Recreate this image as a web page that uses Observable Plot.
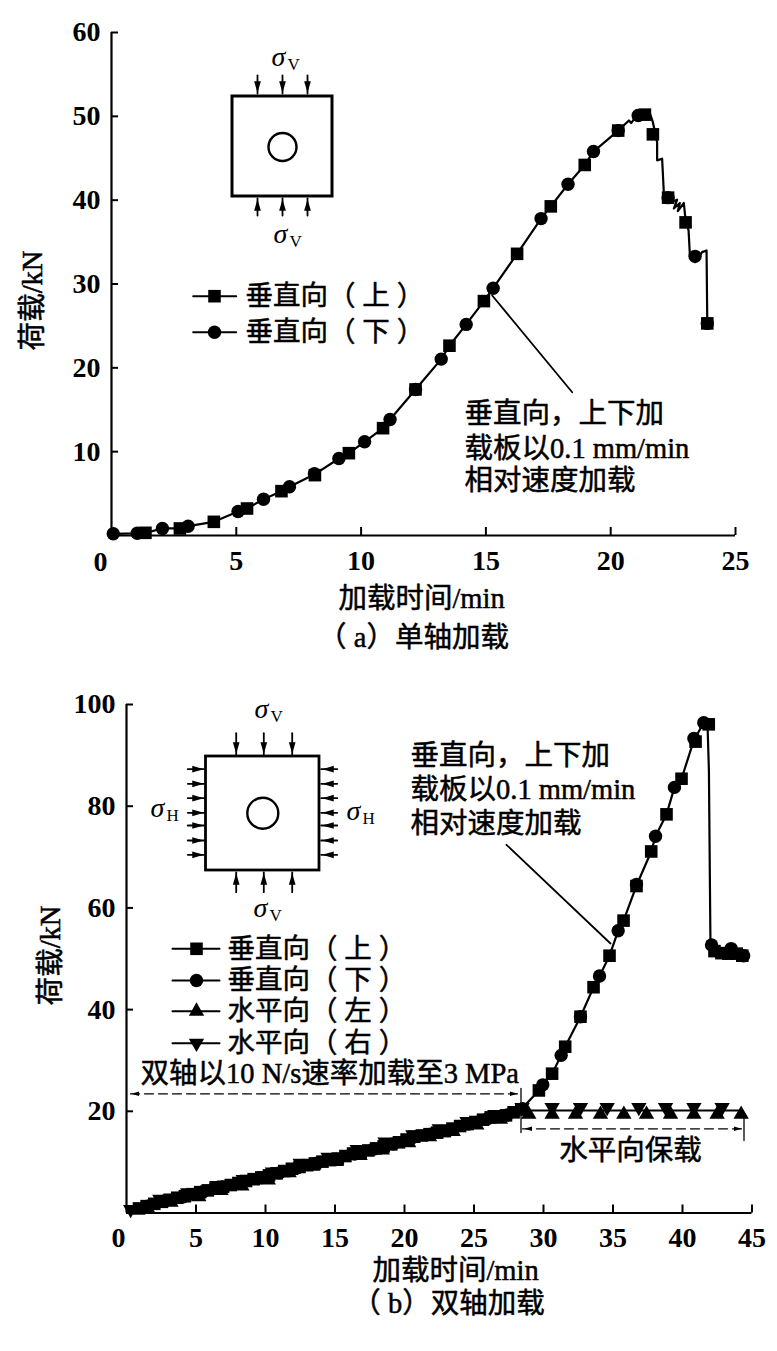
<!DOCTYPE html>
<html><head><meta charset="utf-8">
<script src="https://cdn.jsdelivr.net/npm/d3@7"></script>
<script src="https://cdn.jsdelivr.net/npm/@observablehq/plot@0.6"></script>
<style>html,body{margin:0;padding:0;background:#fff;overflow:hidden}svg{display:block}svg text{text-spacing-trim:space-all}</style>
</head><body><div id="chart"></div>
<script>
// ---------- Panel (a) data ----------
const aXTicks = [5,10,15,20,25];
const aYTicks = [10,20,30,40,50,60];
const aLineT = [0.07,1.03,1.36,2.04,2.74,3.07,4.1,5.07,5.43,6.09,6.81,7.13,8.14,9.11,9.51,10.14,10.88,11.16,12.18,13.21,13.54,14.21,14.92,15.29,16.25,17.21,17.6,18.29,18.96,19.31,20.3,20.73,20.82,20.99,21.2,21.53,21.69,21.86,21.86,22.06,22.13,22.3,22.46,22.66,22.53,22.77,22.69,22.93,23.01,23.12,23.17,23.38,23.66,23.84,23.87];
const aLineV = [0.2,0.27,0.32,0.84,0.84,1.11,1.63,2.86,3.22,4.33,5.29,5.81,7.3,9.19,9.82,11.18,12.8,13.84,17.42,21.04,22.64,25.18,27.96,29.5,33.6,37.8,39.26,41.9,44.2,45.8,48.3,49.5,49.2,49.9,50.7,50.7,49.3,46.9,44.75,44.95,40.8,40.3,39.8,40.05,39.0,39.66,38.7,39.66,37.35,36.4,33.6,32.6,33.8,34.0,25.3];
const aSquareT = [1.36,2.74,4.1,5.43,6.81,8.15,9.51,10.88,12.18,13.54,14.92,16.25,17.6,18.96,20.3,21.37,21.69,22.3,23.0,23.87];
const aSquareV = [0.32,0.84,1.63,3.22,5.29,7.2,9.82,12.8,17.42,22.64,27.96,33.6,39.26,44.2,48.3,50.2,47.85,40.3,37.35,25.3];
const aCircleT = [0.07,1.03,2.04,3.07,5.07,6.09,7.13,8.13,9.11,10.14,11.16,12.18,13.21,14.21,15.29,17.21,18.29,19.31,20.3,21.1,22.3,23.38,23.87];
const aCircleV = [0.2,0.27,0.84,1.11,2.86,4.33,5.81,7.36,9.19,11.18,13.84,17.42,21.04,25.18,29.5,37.8,41.9,45.8,48.3,50.1,40.3,33.3,25.3];
// ---------- Panel (b) data ----------
const bXTicks = [5,10,15,20,25,30,35,40,45];
const bYTicks = [20,40,60,80,100];
const bLineT = [0.3,1,2,3,4,5,6,7,8,9,10,11,12,13,14,15,16,17,18,19,20,21,22,23,24,25,26,27,28.4,29.67,29.95,30.62,31.27,31.56,32.66,33.6,34.03,34.75,35.37,35.76,36.69,37.75,38.06,38.85,39.42,39.93,40.82,41.53,41.8,41.9,42.01,42.09,42.37,42.85,43.33,43.57,43.93,44.3];
const bLineV = [0.3,1,1.9,2.5,3.2,3.8,4.6,5.1,5.8,6.6,7.1,7.9,8.7,9.5,10,10.5,11.5,12,12.8,13.4,14.2,15,15.6,16.2,17,17.8,18.7,19,20.4,24.1,25.2,27.4,31,32.7,38.6,44.4,46.6,50.6,55.5,57.5,64.4,71.1,74.1,78.4,83.7,85.4,93,96.4,96.1,87,53.6,52.7,51,51.9,51.3,52.6,51.3,50.6];
const bSquareT = [0.9,1.45,2,2.55,3.1,3.65,4.2,4.75,5.3,5.85,6.4,6.95,7.5,8.05,8.6,9.15,9.7,10.25,10.8,11.35,11.9,12.45,13,13.55,14.1,14.65,15.2,15.75,16.3,16.85,17.4,17.95,18.5,19.05,19.6,20.15,20.7,21.25,21.8,22.35,22.9,23.45,24,24.55,25.1,25.65,26.2,26.75,27.3,27.85,28.4,29.67,30.62,31.56,32.66,33.6,34.75,35.76,36.69,37.75,38.85,39.93,40.94,41.89,42.3,42.8,43.3,43.9,44.3];
const bSquareV = [0.9,1.35,1.8,2.2,2.6,3,3.3,3.7,4.1,4.45,4.8,5.15,5.5,5.9,6.3,6.65,7,7.4,7.8,8.25,8.7,9.05,9.4,9.75,10.1,10.4,10.7,11.2,11.7,12,12.3,12.7,13.1,13.5,13.9,14.45,15,15.25,15.5,15.8,16.1,16.6,17.1,17.5,17.9,18.35,18.8,19,19.2,19.8,20.4,24.1,27.4,32.7,38.6,44.4,50.6,57.5,64.3,71.1,78.4,85.4,92.7,96.1,51.5,51.1,51,51,50.6];
const bCircleT = [1.4,2.8,4.1,5.5,6.9,8.2,9.6,11,12.3,13.7,15.1,16.4,17.8,19.2,20.5,21.9,23.3,24.6,26,27.4,28.5,29.95,31.27,32.66,34.03,35.37,36.69,38.06,39.42,40.82,41.53,42.09,43.5,44.4];
const bCircleV = [1.3,2.4,3.2,4.2,5.1,5.9,6.9,7.9,8.9,9.8,10.6,11.6,12.6,13.6,14.7,15.5,16.4,17.5,18.6,19.3,20.5,25.2,31,38.6,46.6,55.5,64.6,74.1,83.7,93.3,96.4,52.7,52,50.6];
const bUpT = [1.5,3.2,5.2,6.8,8.3,10.2,11.7,13.4,15.1,16.8,18.4,20.3,21.8,23.5,25.2,26.9,28.94,30.62,32.3,34.1,35.78,37.41,39.14,40.82,42.49,44.22];
const bUpV = [1.0,2.1,3.2,4.4,5.3,6.5,7.9,9.2,10.1,11.3,12.4,13.8,15,16,17.3,18.4,19.4,19.4,19.4,19.4,19.4,19.4,19.4,19.4,19.4,19.4];
const bDownT = [0.3,2.4,4.4,6.5,8.4,10.5,12.5,14.5,16.6,18.6,20.6,22.5,24.5,26.5,28.46,30.62,32.66,34.58,36.86,38.78,40.82,42.85];
const bDownV = [0.7,2.7,4.0,5.4,6.6,8.1,9.8,11,12.5,14,15.4,16.6,18,19.4,20.75,20.75,20.75,20.75,20.75,20.75,20.75,20.75];
const bHoldT = [28.4,44.22];
const bHoldV = [20.16,20.16];
const legendA = ["垂直向（ 上 ）","垂直向（ 下 ）"];
const legendB = ["垂直向（ 上 ）","垂直向（ 下 ）","水平向（ 左 ）","水平向（ 右 ）"];
const note = ["垂直向，上下加","载板以0.1 mm/min","相对速度加载"];

const FONT = '"Liberation Serif","Noto Sans CJK SC",serif';
const rows = (t,v) => t.map((d,i)=>({t:d,v:v[i]}));
const head = {draw(c,s){const r=Math.sqrt(s/Math.PI);c.moveTo(0,r*1.3);c.lineTo(-r*.7,-r*1.1);c.lineTo(r*.7,-r*1.1);c.closePath();}};

function panel(o){
  const kx=(o.right-o.left)/o.xMax, ky=(o.bottom-o.top)/o.yMax;
  const X=p=>(p-o.left)/kx;
  const Y=p=>(o.bottom-(p-o.off))/ky;
  const txt=(s,px,py,opt={})=>Plot.text([s],{x:X(px),y:Y(py),text:d=>d,fontSize:28.5,textAnchor:"start",fill:"#000",stroke:"#000",strokeWidth:0.5,...opt});
  const seg=(x1,y1,x2,y2,opt={})=>Plot.line([[X(x1),Y(y1)],[X(x2),Y(y2)]],{stroke:"#000",strokeWidth:1.8,...opt});
  const arrowHead=(px,py,rot,r=4.8)=>Plot.dot([0],{x:X(px),y:Y(py),symbol:head,r,fill:"#000",stroke:"none",rotate:rot});
  const sigma=(px,py,sub)=>[
    txt("σ",px,py,{fontStyle:"italic",fontSize:28,fontFamily:'"Liberation Serif",serif',strokeWidth:0}),
    txt(sub,px+16,py+7,{fontSize:17,fontFamily:'"Liberation Serif",serif',strokeWidth:0})];
  return {X,Y,txt,seg,arrowHead,sigma,kx,ky};
}
function base(o,h,marks){
  return Plot.plot({
    width:777,height:o.height,marginLeft:o.left,marginRight:777-o.right,marginTop:o.top,marginBottom:o.height-o.bottom,
    x:{domain:[0,o.xMax],label:null},y:{domain:[0,o.yMax],label:null},clip:false,
    style:{fontFamily:FONT,background:"#fff",color:"#000",overflow:"visible"},
    marks:[
      Plot.axisX({ticks:o.xTicks,tickSize:0,tickPadding:o.xPad,fontSize:o.font,fontWeight:700,label:null,fill:"#000"}),
      Plot.axisY({ticks:o.yTicks,tickSize:0,tickPadding:o.yPad,fontSize:o.font,fontWeight:700,label:null,fill:"#000"}),
      h.txt("0",o.zeroX,o.zeroY,{textAnchor:"middle",fontSize:o.font,fontWeight:700,strokeWidth:0}),
      Plot.ruleX(o.xTicks,{y1:0,y2:8/h.ky,stroke:"#000",strokeWidth:2}),
      Plot.ruleY(o.yTicks,{x1:0,x2:7/h.kx,stroke:"#000",strokeWidth:2}),
      Plot.ruleX([0],{stroke:"#000",strokeWidth:2.2}),
      Plot.ruleY([0],{stroke:"#000",strokeWidth:2.2}),
      ...marks
    ]
  });
}
const sq = (d)=>Plot.dot(d,{x:"t",y:"v",symbol:"square",r:7.1,fill:"#000",stroke:"none"});
const ci = (d)=>Plot.dot(d,{x:"t",y:"v",symbol:"circle",r:6.7,fill:"#000",stroke:"none"});
const up = (d)=>Plot.dot(d,{x:"t",y:"v",symbol:"triangle",r:5.7,fill:"#000",stroke:"none"});
const dn = (d)=>Plot.dot(d,{x:"t",y:"v",symbol:"triangle",rotate:180,r:5.7,fill:"#000",stroke:"none"});

// ---------- Panel (a) ----------
const oa={left:111,right:735,top:32,bottom:535,off:0,height:660,xMax:25,yMax:60,xTicks:aXTicks,yTicks:aYTicks,xPad:15,yPad:11,font:28,zeroX:100,zeroY:562};
const ha=panel(oa);
const aMarks=[
  Plot.line(rows(aLineT,aLineV),{x:"t",y:"v",stroke:"#000",strokeWidth:2.2}),
  sq(rows(aSquareT,aSquareV)),ci(rows(aCircleT,aCircleV)),
  Plot.rect([0],{x1:ha.X(232),x2:ha.X(332),y1:ha.Y(196),y2:ha.Y(96),fill:"none",stroke:"#000",strokeWidth:3}),
  Plot.dot([0],{x:ha.X(282),y:ha.Y(146.5),r:14,fill:"none",stroke:"#000",strokeWidth:2.4}),
  ...[257,282,307].flatMap(x=>[ha.seg(x,75,x,93),ha.arrowHead(x,86,0),ha.seg(x,198,x,215),ha.arrowHead(x,205,180)]),
  ...ha.sigma(271,57,"V"),...ha.sigma(273,234,"V"),
  ha.seg(192.7,295.7,235.7,295.7,{strokeWidth:2}),ha.seg(192.7,331.7,235.7,331.7,{strokeWidth:2}),
  sq([{t:ha.X(214),v:ha.Y(295.7)}]),ci([{t:ha.X(214),v:ha.Y(331.7)}]),
  ha.txt(legendA[0],245,295.7,{fontSize:27.5}),ha.txt(legendA[1],245,331.7,{fontSize:27.5}),
  ha.seg(491.7,295,571.7,391.7),
  ha.txt(note[0],464,413),ha.txt(note[1],464,448),ha.txt(note[2],464,480),
  ha.txt("加载时间/min",421,598,{textAnchor:"middle"}),
  ha.txt("（ a）单轴加载",413,637,{textAnchor:"middle"}),
  ha.txt("荷载/kN",32,300,{textAnchor:"middle",rotate:-90})
];
const svgA=base(oa,ha,aMarks);

// ---------- Panel (b) ----------
const ob={left:126,right:751.5,top:44,bottom:552.5,off:660,height:691,xMax:45,yMax:100,xTicks:bXTicks,yTicks:bYTicks,xPad:14,yPad:11,font:28,zeroX:118,zeroY:1238};
const hb=panel(ob);
const legY=[948.3,980,1010.7,1042.7];
const bMarks=[
  Plot.line(rows(bLineT,bLineV),{x:"t",y:"v",stroke:"#000",strokeWidth:2.2}),
  Plot.line(rows(bHoldT,bHoldV),{x:"t",y:"v",stroke:"#000",strokeWidth:2.2}),
  sq(rows(bSquareT,bSquareV)),ci(rows(bCircleT,bCircleV)),up(rows(bUpT,bUpV)),dn(rows(bDownT,bDownV)),
  Plot.rect([0],{x1:hb.X(205.5),x2:hb.X(319),y1:hb.Y(870),y2:hb.Y(756),fill:"none",stroke:"#000",strokeWidth:2.8}),
  Plot.dot([0],{x:hb.X(262.3),y:hb.Y(812.7),r:15.5,fill:"none",stroke:"#000",strokeWidth:2.4}),
  ...[235.7,263.3,291.7].flatMap(x=>[hb.seg(x,732.7,x,754),hb.arrowHead(x,747,0),hb.seg(x,872,x,891.7),hb.arrowHead(x,879,180)]),
  ...[768.7,783.3,797.7,812.3,825,840,854.3].flatMap(y=>[hb.seg(187.3,y,204,y),hb.arrowHead(197,y,-90),hb.seg(320.7,y,336.7,y),hb.arrowHead(328,y,90)]),
  ...hb.sigma(254,709,"V"),...hb.sigma(253,908,"V"),...hb.sigma(150,808,"H"),...hb.sigma(346,811,"H"),
  ...legY.map(y=>hb.seg(172,y,219,y,{strokeWidth:2})),
  sq([{t:hb.X(196),v:hb.Y(legY[0])}]),ci([{t:hb.X(196),v:hb.Y(legY[1])}]),
  up([{t:hb.X(196),v:hb.Y(legY[2])}]),dn([{t:hb.X(196),v:hb.Y(legY[3])}]),
  ...legendB.map((s,i)=>hb.txt(s,227,legY[i],{fontSize:27.5})),
  hb.seg(506,844.3,610,943),
  hb.txt(note[0],410,755),hb.txt(note[1],410,789),hb.txt(note[2],410,823),
  hb.txt("双轴以10 N/s速率加载至3 MPa",140,1073,{fontSize:28.5}),
  hb.seg(130,1093.3,518,1093.3,{strokeDasharray:"9 5",strokeWidth:1.3}),
  hb.arrowHead(135,1093.3,90,3.2),hb.arrowHead(513,1093.3,-90,3.2),
  hb.seg(520.5,1088,520.5,1132,{strokeWidth:1.3}),
  hb.seg(522,1128.3,743,1128.3,{strokeDasharray:"9 5",strokeWidth:1.3}),
  hb.arrowHead(528,1128.3,90,3.2),hb.arrowHead(737,1128.3,-90,3.2),
  hb.seg(743.5,1118,743.5,1140,{strokeWidth:1.3}),
  hb.txt("水平向保载",630,1150,{textAnchor:"middle"}),
  hb.txt("加载时间/min",455,1270,{textAnchor:"middle"}),
  hb.txt("（ b）双轴加载",448,1303,{textAnchor:"middle"}),
  hb.txt("荷载/kN",50,955,{textAnchor:"middle",rotate:-90})
];
const svgB=base(ob,hb,bMarks);
document.getElementById("chart").append(svgA,svgB);
</script></body></html>
